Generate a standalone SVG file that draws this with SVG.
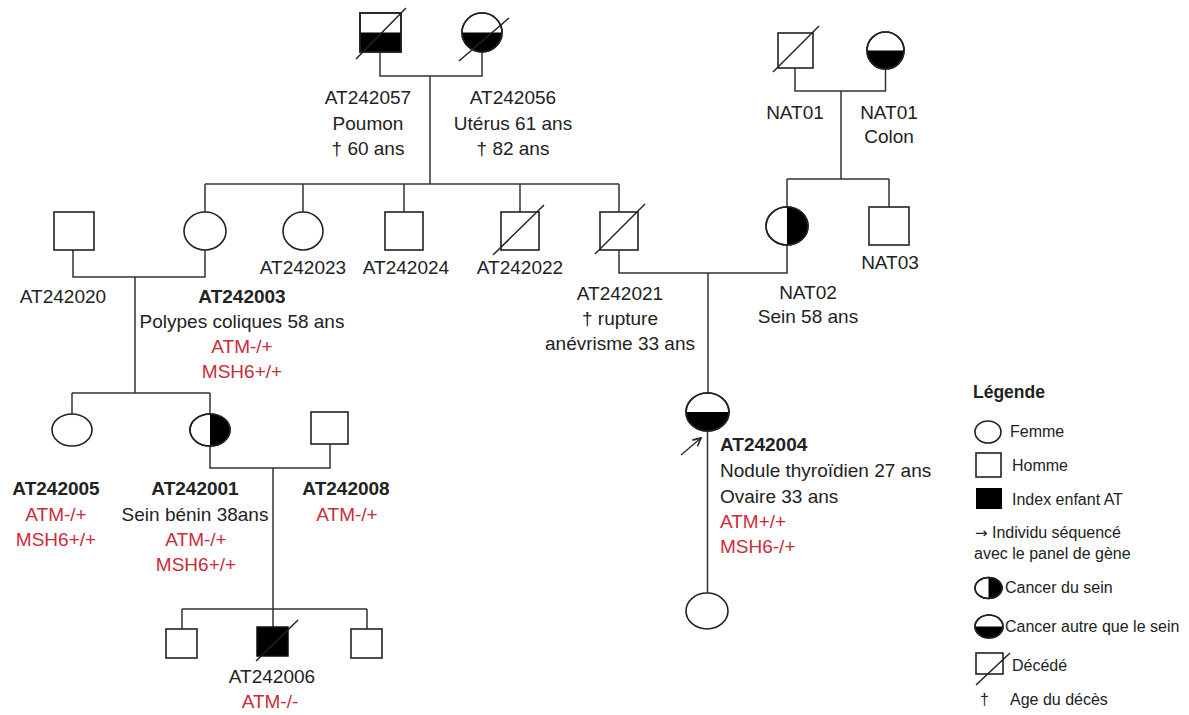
<svg xmlns="http://www.w3.org/2000/svg" width="1189" height="715" viewBox="0 0 1189 715">
<style>
.ln{stroke:#333;stroke-width:1.5;fill:none}
.sh{fill:#fff;stroke:#222;stroke-width:1.6}
.ol{fill:none;stroke:#222;stroke-width:1.6}
.blk{fill:#000}
.dg{stroke:#222;stroke-width:1.5}
.t{font-family:"Liberation Sans",Arial,sans-serif;font-size:19px;fill:#222;text-anchor:middle}
.s{text-anchor:start}
.b{font-weight:bold}
.r{fill:#cc2b3b}
.lg{font-family:"Liberation Sans",Arial,sans-serif;font-size:16px;fill:#222}
</style>
<defs>
<marker id="ah" viewBox="0 0 10 10" refX="9" refY="5" markerWidth="10" markerHeight="10" orient="auto" markerUnits="userSpaceOnUse">
<path d="M1 1 L9 5 L1 9" fill="none" stroke="#222" stroke-width="1.6"/>
</marker>
</defs>
<rect width="1189" height="715" fill="#fff"/>

<g id="connectors">
<path class="ln" d="M380 52 V76 H482 V52"/>
<path class="ln" d="M430 76 V184"/>
<path class="ln" d="M205 184 H619"/>
<path class="ln" d="M205 184 V212 M303 184 V212 M404 184 V212 M520 184 V212 M619 184 V212"/>
<path class="ln" d="M73 250 V277 H205 V250"/>
<path class="ln" d="M135 277 V393"/>
<path class="ln" d="M72 393 H210 M72 393 V414 M210 393 V414"/>
<path class="ln" d="M210 446 V468 H330 V444"/>
<path class="ln" d="M273 468 V609 M182 609 H367 M182 609 V629 M273 609 V627 M367 609 V629"/>
<path class="ln" d="M795 68 V91 H885.5 V69"/>
<path class="ln" d="M841 91 V179 M787 179 H889 M787 179 V207 M889 179 V207"/>
<path class="ln" d="M619 250 V273 H787 V245"/>
<path class="ln" d="M708 273 V393 M707.5 431 V593"/>
<line class="ln" x1="681" y1="455" x2="701" y2="438" marker-end="url(#ah)"/>
</g>

<g id="AT242057">
<rect class="sh" x="360" y="13" width="41" height="39"/>
<rect class="blk" x="360" y="32.5" width="41" height="19.5"/>
<rect class="ol" x="360" y="13" width="41" height="39"/>
<line class="dg" x1="356" y1="59" x2="406" y2="8"/>
<text class="t" x="368" y="104">AT242057</text>
<text class="t" x="368" y="130">Poumon</text>
<text class="t" x="368" y="155">† 60 ans</text>
</g>

<g id="AT242056">
<ellipse class="sh" cx="482" cy="32.5" rx="20" ry="19.5"/>
<path class="blk" d="M462 32.5 A20 19.5 0 0 0 502 32.5 Z"/>
<ellipse class="ol" cx="482" cy="32.5" rx="20" ry="19.5"/>
<line class="dg" x1="459" y1="61" x2="509" y2="18"/>
<text class="t" x="513" y="104">AT242056</text>
<text class="t" x="513" y="130">Utérus 61 ans</text>
<text class="t" x="513" y="155">† 82 ans</text>
</g>

<g id="NAT01-m">
<rect class="sh" x="778" y="33" width="35" height="35"/>
<line class="dg" x1="773" y1="72" x2="819" y2="26"/>
<text class="t" x="795" y="119">NAT01</text>
</g>

<g id="NAT01-f">
<ellipse class="sh" cx="885.5" cy="50.5" rx="18.5" ry="18.5"/>
<path class="blk" d="M867 50.5 A18.5 18.5 0 0 0 904 50.5 Z"/>
<ellipse class="ol" cx="885.5" cy="50.5" rx="18.5" ry="18.5"/>
<text class="t" x="889" y="119">NAT01</text>
<text class="t" x="889" y="143">Colon</text>
</g>

<g id="AT242020">
<rect class="sh" x="54" y="212" width="40" height="38"/>
<text class="t" x="63" y="303">AT242020</text>
</g>

<g id="AT242003">
<ellipse class="sh" cx="205" cy="231" rx="21" ry="19"/>
<text class="t b" x="242" y="303">AT242003</text>
<text class="t" x="242" y="328">Polypes coliques 58 ans</text>
<text class="t r" x="242" y="353">ATM-/+</text>
<text class="t r" x="242" y="378">MSH6+/+</text>
</g>

<g id="AT242023">
<ellipse class="sh" cx="303" cy="231" rx="20" ry="19"/>
<text class="t" x="303" y="274">AT242023</text>
</g>

<g id="AT242024">
<rect class="sh" x="385" y="212" width="38" height="38"/>
<text class="t" x="406" y="274">AT242024</text>
</g>

<g id="AT242022">
<rect class="sh" x="501" y="212" width="38" height="38"/>
<line class="dg" x1="493" y1="255" x2="544" y2="205"/>
<text class="t" x="520" y="274">AT242022</text>
</g>

<g id="AT242021">
<rect class="sh" x="600" y="212" width="38" height="38"/>
<line class="dg" x1="595" y1="254" x2="645" y2="204"/>
<text class="t" x="620" y="300">AT242021</text>
<text class="t" x="620" y="325">† rupture</text>
<text class="t" x="620" y="350">anévrisme 33 ans</text>
</g>

<g id="NAT02">
<ellipse class="sh" cx="787" cy="226" rx="21" ry="19"/>
<path class="blk" d="M787 207 A21 19 0 0 1 787 245 Z"/>
<ellipse class="ol" cx="787" cy="226" rx="21" ry="19"/>
<text class="t" x="808" y="299">NAT02</text>
<text class="t" x="808" y="323">Sein 58 ans</text>
</g>

<g id="NAT03">
<rect class="sh" x="869" y="207" width="40" height="38"/>
<text class="t" x="890" y="269">NAT03</text>
</g>

<g id="AT242005">
<ellipse class="sh" cx="72" cy="430" rx="20" ry="16"/>
<text class="t b" x="56" y="495">AT242005</text>
<text class="t r" x="56" y="521">ATM-/+</text>
<text class="t r" x="56" y="546">MSH6+/+</text>
</g>

<g id="AT242001">
<ellipse class="sh" cx="210" cy="430" rx="20" ry="16"/>
<path class="blk" d="M210 414 A20 16 0 0 1 210 446 Z"/>
<ellipse class="ol" cx="210" cy="430" rx="20" ry="16"/>
<text class="t b" x="195" y="495">AT242001</text>
<text class="t" x="195" y="521">Sein bénin 38ans</text>
<text class="t r" x="196" y="546">ATM-/+</text>
<text class="t r" x="196" y="571">MSH6+/+</text>
</g>

<g id="AT242008">
<rect class="sh" x="311" y="412" width="37" height="32"/>
<text class="t b" x="346" y="495">AT242008</text>
<text class="t r" x="347" y="521">ATM-/+</text>
</g>

<g id="child-left">
<rect class="sh" x="166" y="629" width="31" height="29"/>
</g>

<g id="AT242006">
<rect x="257" y="627" width="31" height="29" fill="#000" stroke="#111" stroke-width="1.5"/>
<line class="dg" x1="256" y1="661" x2="298" y2="620"/>
<text class="t" x="272" y="683">AT242006</text>
<text class="t r" x="270" y="708">ATM-/-</text>
</g>

<g id="child-right">
<rect class="sh" x="351" y="629" width="31" height="29"/>
</g>

<g id="AT242004">
<ellipse class="sh" cx="707.5" cy="412" rx="21.5" ry="19"/>
<path class="blk" d="M686 412 A21.5 19 0 0 0 729 412 Z"/>
<ellipse class="ol" cx="707.5" cy="412" rx="21.5" ry="19"/>
<text class="t s b" x="720" y="451">AT242004</text>
<text class="t s" x="720" y="477">Nodule thyroïdien 27 ans</text>
<text class="t s" x="720" y="503">Ovaire 33 ans</text>
<text class="t s r" x="720" y="528">ATM+/+</text>
<text class="t s r" x="720" y="553">MSH6-/+</text>
</g>

<g id="AT242004-child">
<ellipse class="sh" cx="707" cy="611" rx="21" ry="18"/>
</g>

<g id="legend">
<text class="lg" x="973" y="398" style="font-weight:bold;font-size:17.5px">Légende</text>
<ellipse class="sh" cx="988" cy="432" rx="13" ry="11"/>
<text class="lg" x="1010" y="437">Femme</text>
<rect class="sh" x="976" y="453" width="25" height="24"/>
<text class="lg" x="1012" y="471">Homme</text>
<rect class="blk" x="976" y="488" width="26" height="21"/>
<text class="lg" x="1012" y="505">Index enfant AT</text>
<text class="lg" x="975" y="538"><tspan style="font-family:'DejaVu Sans',sans-serif;font-size:15px">→</tspan> Individu séquencé</text>
<text class="lg" x="974" y="559">avec le panel de gène</text>
<ellipse class="sh" cx="988.5" cy="588" rx="13.5" ry="10.5"/>
<path class="blk" d="M988.5 577.5 A13.5 10.5 0 0 1 988.5 598.5 Z"/>
<ellipse class="ol" cx="988.5" cy="588" rx="13.5" ry="10.5"/>
<text class="lg" x="1005" y="593">Cancer du sein</text>
<ellipse class="sh" cx="989" cy="626.5" rx="14" ry="11.5"/>
<path class="blk" d="M975 626.5 A14 11.5 0 0 0 1003 626.5 Z"/>
<ellipse class="ol" cx="989" cy="626.5" rx="14" ry="11.5"/>
<text class="lg" x="1005" y="632">Cancer autre que le sein</text>
<rect class="sh" x="976" y="653" width="27" height="21"/>
<line class="dg" x1="976" y1="685" x2="1010" y2="653"/>
<text class="lg" x="1012" y="671">Décédé</text>
<text class="lg" x="980" y="705">†</text>
<text class="lg" x="1010" y="705">Age du décès</text>
</g>
</svg>
